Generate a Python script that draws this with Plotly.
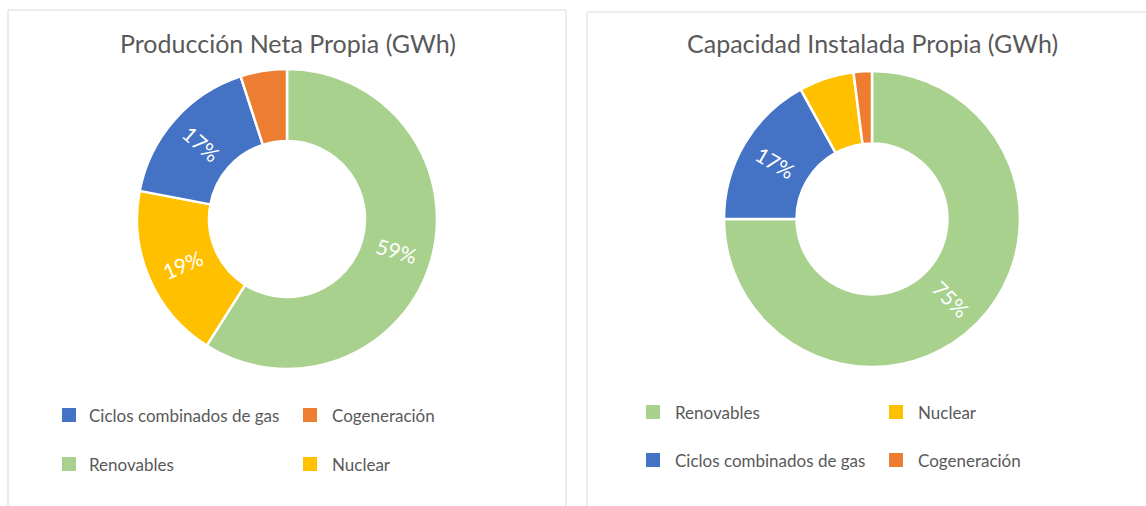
import math
import plotly.graph_objects as go

W, H = 1146, 506

# Data
prod_labels = ["Renovables", "Nuclear", "Ciclos combinados de gas", "Cogeneración"]
prod_values = [59, 19, 17, 5]
cap_labels = ["Renovables", "Ciclos combinados de gas", "Nuclear", "Cogeneración"]
cap_values = [75, 17, 6, 2]
titles = ["Producción Neta Propia (GWh)", "Capacidad Instalada Propia (GWh)"]
legend_left = [["Ciclos combinados de gas", "Cogeneración"], ["Renovables", "Nuclear"]]
legend_right = [["Renovables", "Nuclear"], ["Ciclos combinados de gas", "Cogeneración"]]

colors = {
    "Renovables": "#A9D18E",
    "Nuclear": "#FFC000",
    "Ciclos combinados de gas": "#4472C4",
    "Cogeneración": "#ED7D31",
}
FONT = "Lato"
GRAY = "#595959"


def px(x):
    return x / W


def py(y):
    return 1 - y / H


fig = go.Figure()
shapes = []
annotations = []

pies = [
    dict(labels=prod_labels, values=prod_values, cx=287, cy=219, R=150, hole=0.52),
    dict(labels=cap_labels, values=cap_values, cx=872, cy=219, R=148, hole=0.51),
]

for p in pies:
    cx, cy, R, hole = p["cx"], p["cy"], p["R"], p["hole"]
    fig.add_trace(go.Pie(
        labels=p["labels"], values=p["values"], sort=False, direction="clockwise",
        rotation=0, hole=hole, textinfo="none",
        marker=dict(colors=[colors[l] for l in p["labels"]], line=dict(color="white", width=2.5)),
        domain=dict(x=[px(cx - R), px(cx + R)], y=[py(cy + R), py(cy - R)]),
        showlegend=False, hoverinfo="label+percent",
    ))
    # radial percentage labels (like Excel), for slices >= 10%
    tot = sum(p["values"])
    cum = 0
    rmid = R * (1 + hole) / 2
    for v in p["values"]:
        frac = v / tot
        mid = cum + frac / 2
        cum += frac
        if frac < 0.10:
            continue
        th = 360 * mid
        tx = cx + rmid * math.sin(math.radians(th))
        ty = cy - rmid * math.cos(math.radians(th))
        rot = (th % 180) - 90
        annotations.append(dict(text=f"{round(frac * 100)}%", x=px(tx), y=py(ty), xref="paper", yref="paper",
                                showarrow=False, xanchor="center", yanchor="middle", textangle=rot,
                                font=dict(family=FONT, size=21, color="white")))

# Panel borders
bc = "#D9D9D9"
shapes.append(dict(type="rect", xref="paper", yref="paper", x0=px(8), x1=px(566), y0=py(530), y1=py(10),
                   line=dict(color=bc, width=1), fillcolor="rgba(0,0,0,0)", layer="below"))
shapes.append(dict(type="rect", xref="paper", yref="paper", x0=px(587), x1=px(1170), y0=py(530), y1=py(12),
                   line=dict(color=bc, width=1), fillcolor="rgba(0,0,0,0)", layer="below"))

# Titles
for t, cx in zip(titles, [288, 872]):
    annotations.append(dict(text=t, x=px(cx), y=py(43), xref="paper", yref="paper",
                            showarrow=False, xanchor="center", yanchor="middle",
                            font=dict(family=FONT, size=25, color=GRAY)))


def add_legend(rows, sq_x, txt_x, row_y, sq):
    for r, items in enumerate(rows):
        for c, name in enumerate(items):
            x0 = sq_x[c]
            yc = row_y[r]
            shapes.append(dict(type="rect", xref="paper", yref="paper",
                               x0=px(x0), x1=px(x0 + sq), y0=py(yc + sq / 2), y1=py(yc - sq / 2),
                               fillcolor=colors[name], line=dict(width=0)))
            annotations.append(dict(text=name, x=px(txt_x[c]), y=py(yc), xref="paper", yref="paper",
                                    showarrow=False, xanchor="left", yanchor="middle",
                                    font=dict(family=FONT, size=17, color=GRAY)))


add_legend(legend_left, [62, 303], [87, 330], [415, 464], 14)
add_legend(legend_right, [646, 889], [673, 916], [412, 460], 14)

fig.update_layout(
    width=W, height=H, margin=dict(l=0, r=0, t=0, b=0),
    paper_bgcolor="white", plot_bgcolor="white",
    shapes=shapes, annotations=annotations,
    font=dict(family=FONT, color=GRAY),
)

fig.write_html("out.html", config={"displayModeBar": False},
               post_script="document.body.style.margin='0';document.body.style.overflow='hidden';")
